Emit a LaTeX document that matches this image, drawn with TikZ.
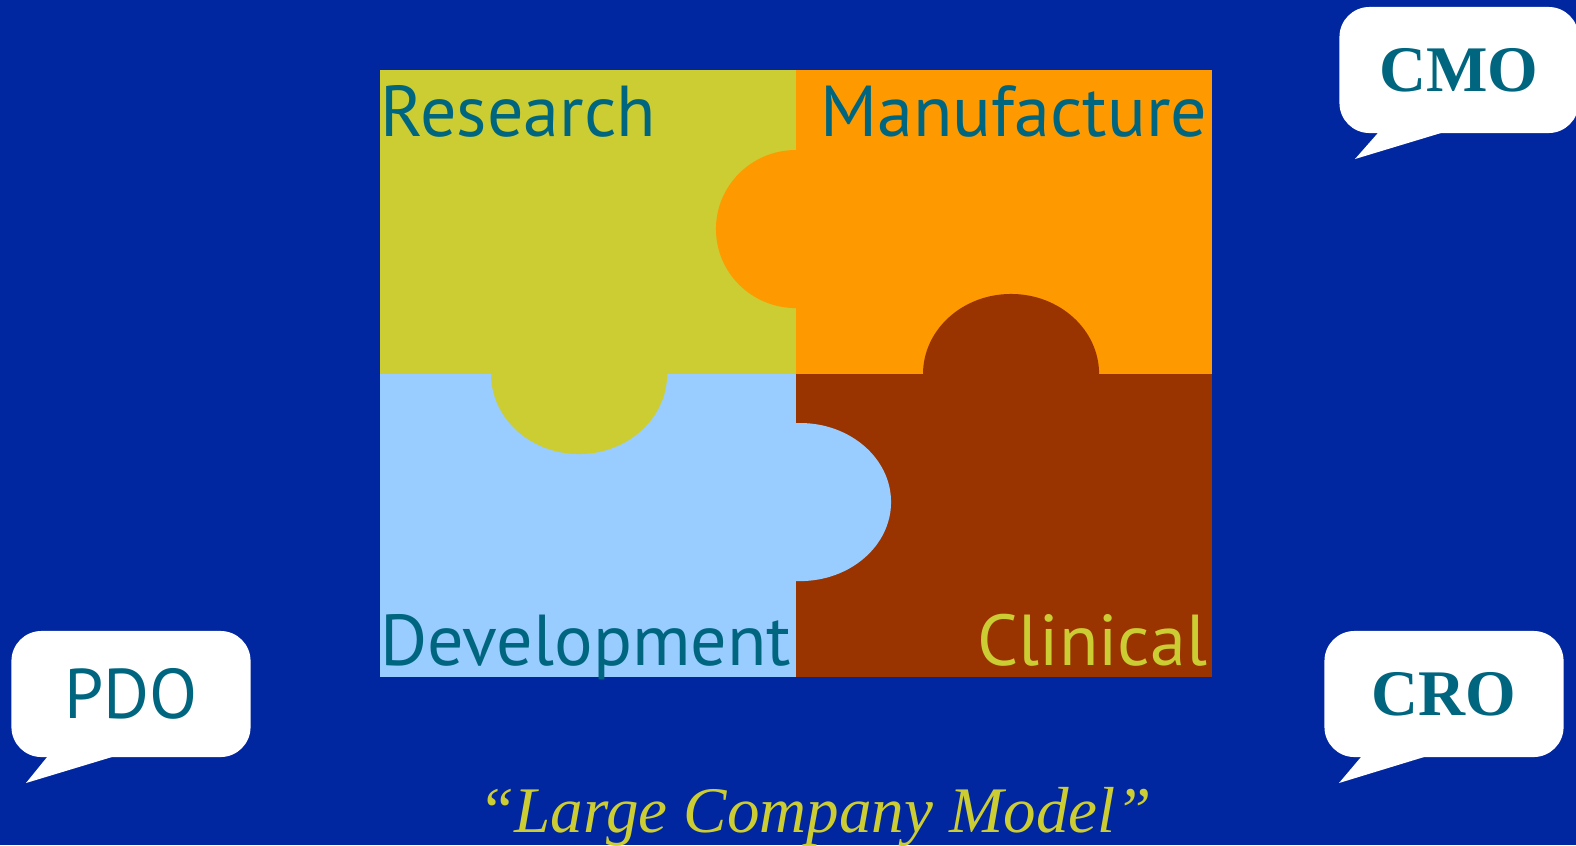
\documentclass[tikz,border=0pt]{standalone}
\usepackage{fontspec}
\setmainfont{Liberation Serif}
\newfontfamily\piecefont{PT Sans}

\definecolor{bgblue}{RGB}{0,38,160}
\definecolor{researchc}{RGB}{204,204,51}
\definecolor{manufc}{RGB}{255,153,0}
\definecolor{develc}{RGB}{153,204,255}
\definecolor{clinicc}{RGB}{153,51,0}
\definecolor{labelteal}{RGB}{0,102,128}

\begin{document}
\begin{tikzpicture}[x=0.01cm,y=-0.01cm,
    piecelabel/.style={font=\piecefont\fontsize{20.5}{24}\selectfont,text=labelteal,inner sep=0pt},
    bubble/.style={fill=white,rounded corners=0.3cm,minimum width=2.39cm,minimum height=1.26cm,inner sep=0pt,text=labelteal}]
\useasboundingbox (0,0) rectangle (1576,845);
\fill[bgblue] (0,0) rectangle (1576,845);

% the four pieces
\fill[researchc] (380,70) rectangle (796,374);
\fill[manufc] (796,70) rectangle (1212,374);
\fill[develc] (380,374) rectangle (796,677);
\fill[clinicc] (796,374) rectangle (1212,677);
% the tabs
\fill[manufc] (796,150) arc[start angle=90,end angle=270,x radius=0.80cm,y radius=0.79cm] -- cycle;
\fill[clinicc] (923,374) arc[start angle=180,end angle=0,x radius=0.88cm,y radius=0.80cm] -- cycle;
\fill[researchc] (491,374) arc[start angle=180,end angle=360,x radius=0.88cm,y radius=0.80cm] -- cycle;
\fill[develc] (796,423) -- (800,423) arc[start angle=90,end angle=-90,x radius=0.91cm,y radius=0.79cm] -- (796,581) -- cycle;

\node[piecelabel,anchor=base west] (research) at (380,136) {Research};
\node[piecelabel,anchor=base east] (manuf) at (1208,136) {Manufacture};
\node[piecelabel,anchor=base west] (devel) at (380,665) {Development};
\node[piecelabel,anchor=base east,text=researchc] (clinic) at (1208,665) {Clinical};

% speech bubbles
\node[bubble,font=\piecefont\fontsize{20}{24}\selectfont] (pdo) at (131,694) {PDO};
\coordinate (pdotip) at (26,783);
\fill[white] ([xshift=0.39cm,yshift=0.04cm]pdo.south west) -- (pdotip) -- ([xshift=1.12cm,yshift=0.04cm]pdo.south west) -- cycle;

\node[bubble,font=\bfseries\fontsize{18.5}{23}\selectfont] (cmo) at (1459,70) {CMO};
\coordinate (cmotip) at (1355,159);
\fill[white] ([xshift=0.42cm,yshift=0.04cm]cmo.south west) -- (cmotip) -- ([xshift=1.13cm,yshift=0.04cm]cmo.south west) -- cycle;

\node[bubble,font=\bfseries\fontsize{18.5}{23}\selectfont] (cro) at (1444,694) {CRO};
\coordinate (crotip) at (1339,783);
\fill[white] ([xshift=0.40cm,yshift=0.04cm]cro.south west) -- (crotip) -- ([xshift=1.11cm,yshift=0.04cm]cro.south west) -- cycle;

\node[anchor=base,inner sep=0pt,text=researchc,font=\itshape\fontsize{18.5}{22}\selectfont] (model) at (815,832) {``Large Company Model''};
\end{tikzpicture}
\end{document}
